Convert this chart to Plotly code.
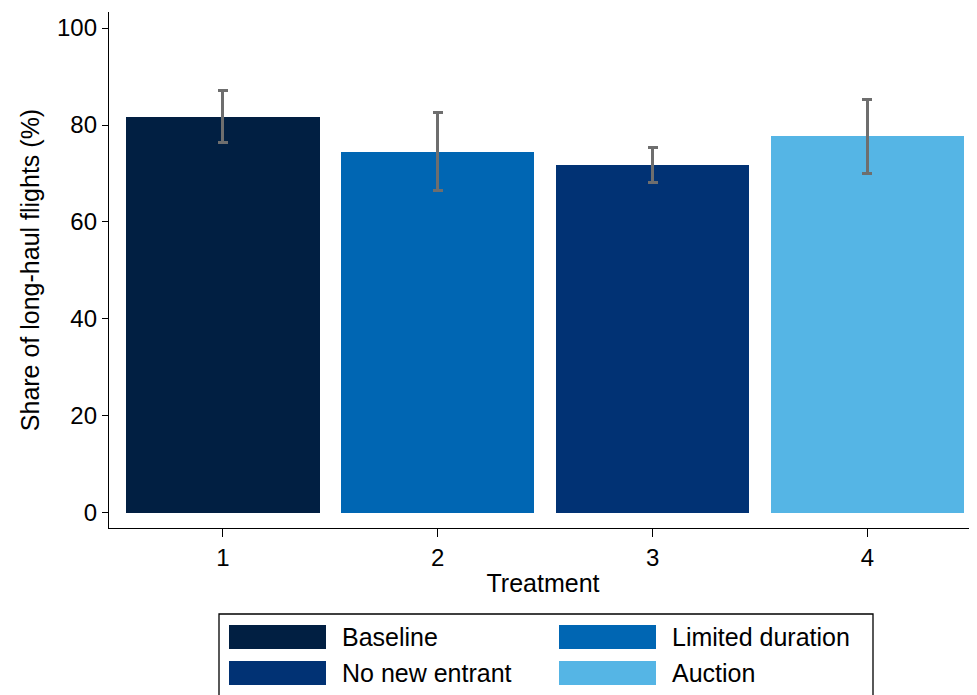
import plotly.graph_objects as go

treatments = [1, 2, 3, 4]
labels = ["Baseline", "Limited duration", "No new entrant", "Auction"]
share = [81.6, 74.4, 71.8, 77.7]
err_hi = [87.2, 82.5, 75.3, 85.2]
err_lo = [76.3, 66.4, 68.2, 70.1]
colors = ["#011f42", "#0066b3", "#013274", "#55b5e5"]
ytick_vals = [0, 20, 40, 60, 80, 100]

plus = [h - v for h, v in zip(err_hi, share)]
minus = [v - l for v, l in zip(share, err_lo)]

fig = go.Figure()
fig.add_trace(go.Bar(
    x=treatments, y=share, width=0.9,
    marker=dict(color=colors, line=dict(width=0)),
    error_y=dict(type="data", symmetric=False, array=plus, arrayminus=minus,
                 color="#6e6e6e", thickness=3, width=5),
    showlegend=False,
))

font = "Liberation Sans, Arial, sans-serif"

# page body adds an 8px offset; compensate so plot area sits at x 109..977, y 12..528
fig.update_layout(
    width=969, height=687,
    margin=dict(l=101, r=0, t=4, b=167),
    paper_bgcolor="white", plot_bgcolor="white",
    font=dict(family=font, size=25, color="black"),
    bargap=0,
    xaxis=dict(range=[0.47, 4.51], tickvals=treatments, ticktext=[str(t) for t in treatments],
               showline=True, linecolor="black", linewidth=1.3,
               ticks="outside", ticklen=8, tickwidth=1.3, tickcolor="black",
               tickfont=dict(size=24),
               showgrid=False, zeroline=False,
               title=dict(text="Treatment", standoff=4, font=dict(size=25))),
    yaxis=dict(range=[-3.1, 103.3], tickvals=ytick_vals,
               showline=True, linecolor="black", linewidth=1.3,
               ticks="outside", ticklen=6, tickwidth=1.3, tickcolor="black",
               tickfont=dict(size=24),
               showgrid=False, zeroline=False,
               title=dict(text="Share of long-haul flights (%)", standoff=10, font=dict(size=25))),
)

# legend drawn as a box (coordinates in target pixels, converted to paper)
W, H = 868.0, 516.0
def px(xp):
    return (xp - 109) / W
def py(yp):
    return (528 - yp) / H

fig.add_shape(type="rect", xref="paper", yref="paper",
              x0=px(219), x1=px(873), y0=py(614), y1=py(700),
              line=dict(color="black", width=1.3), fillcolor="white")

order = [(0, 229, 625), (1, 559, 625), (2, 229, 661), (3, 559, 661)]
for idx, sx, sy in order:
    fig.add_shape(type="rect", xref="paper", yref="paper",
                  x0=px(sx), x1=px(sx + 97), y0=py(sy), y1=py(sy + 24),
                  line=dict(width=0), fillcolor=colors[idx])
    fig.add_annotation(xref="paper", yref="paper", x=px(sx + 111), y=py(sy + 12),
                       text=labels[idx], showarrow=False, xanchor="left", yanchor="middle",
                       font=dict(family=font, size=25, color="black"))

fig.write_html("out.html")
